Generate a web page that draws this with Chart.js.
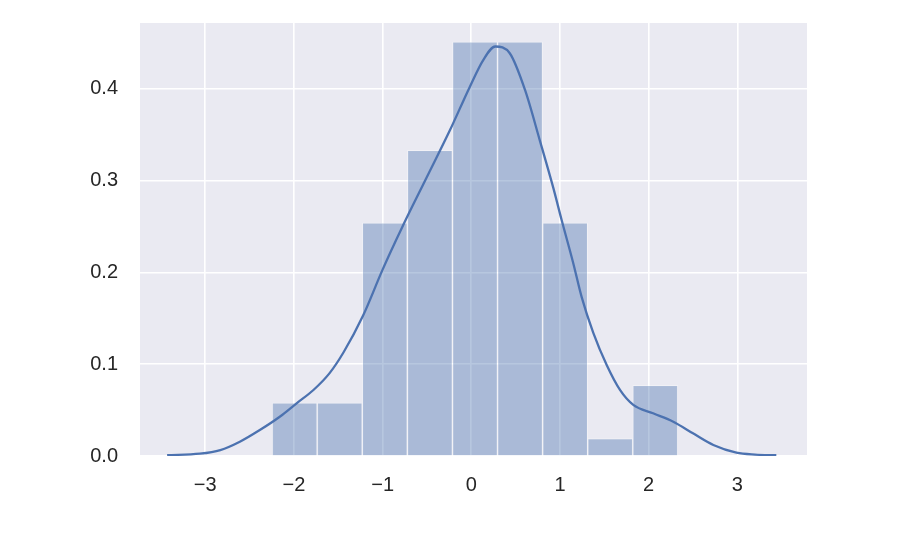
<!DOCTYPE html>
<html>
<head>
<meta charset="utf-8">
<script src="https://cdn.jsdelivr.net/npm/chart.js@4"></script>
<style>
  html, body { margin: 0; padding: 0; background: #ffffff; }
  #wrap { width: 916px; height: 534px; position: relative; }
</style>
</head>
<body>
<div id="wrap"><canvas id="c" width="916" height="534"></canvas></div>
<script>
// Histogram bin edges and densities
const binEdges = [-2.246, -1.738, -1.229, -0.721, -0.212, 0.296, 0.804, 1.313, 1.821, 2.329];
const binDensity = [0.058, 0.058, 0.254, 0.333, 0.451, 0.451, 0.254, 0.019, 0.077];

// KDE curve samples
const kdeX = [-3.43, -3.06, -2.83, -2.61, -2.385, -2.16, -1.97, -1.78, -1.60, -1.44, -1.22, -1.00,
              -0.77, -0.505, -0.24, -0.017, 0.133, 0.27, 0.434, 0.606, 0.775, 0.925, 1.019,
              1.15, 1.245, 1.376, 1.527, 1.677, 1.827, 2.05, 2.278, 2.50, 2.73, 2.99, 3.20, 3.44];
const kdeY = [0.001, 0.0025, 0.0065, 0.0156, 0.0283, 0.0428, 0.0574, 0.0719, 0.090, 0.113, 0.153, 0.203,
              0.251, 0.303, 0.355, 0.402, 0.431, 0.446, 0.4387, 0.3987, 0.343, 0.292, 0.257,
              0.210, 0.173, 0.134, 0.099, 0.0719, 0.0556, 0.0465, 0.0374, 0.0247, 0.012, 0.0036, 0.0015, 0.0008];

// Tick values
const xTicks = [-3, -2, -1, 0, 1, 2, 3];
const yTicks = [0.0, 0.1, 0.2, 0.3, 0.4];

const histData = binDensity.map((d, i) => ({ x: (binEdges[i] + binEdges[i + 1]) / 2, y: d }));
const kdeData = kdeX.map((x, i) => ({ x: x, y: kdeY[i] }));

const bgPlugin = {
  id: 'plotBg',
  beforeDraw(chart) {
    const { ctx, chartArea: a } = chart;
    ctx.save();
    ctx.fillStyle = '#EAEAF2';
    ctx.fillRect(a.left, a.top, a.right - a.left, a.bottom - a.top);
    ctx.restore();
  }
};

new Chart(document.getElementById('c'), {
  type: 'bar',
  data: {
    datasets: [
      {
        type: 'line',
        data: kdeData,
        borderColor: '#4C72B0',
        borderWidth: 2.3,
        pointRadius: 0,
        cubicInterpolationMode: 'monotone',
        fill: false,
        order: 0
      },
      {
        type: 'bar',
        data: histData,
        backgroundColor: 'rgba(76,114,176,0.4)',
        borderColor: 'rgba(255,255,255,0.35)',
        borderWidth: 1,
        barPercentage: 1.0,
        categoryPercentage: 1.0,
        order: 1
      }
    ]
  },
  options: {
    responsive: false,
    animation: false,
    devicePixelRatio: 1,
    layout: { padding: { left: 0, right: 109, top: 23, bottom: 0 } },
    plugins: { legend: { display: false }, tooltip: { enabled: false } },
    scales: {
      x: {
        type: 'linear',
        min: -3.736,
        max: 3.786,
        offset: false,
        border: { display: false },
        grid: { color: '#ffffff', lineWidth: 1.6, drawTicks: false, offset: false },
        afterBuildTicks(scale) { scale.ticks = xTicks.map(v => ({ value: v })); },
        afterFit(scale) { scale.height = 78; scale.paddingLeft = 0; scale.paddingRight = 0; },
        ticks: {
          padding: 17,
          color: '#262626',
          font: { family: 'Liberation Sans, Arial, sans-serif', size: 20 },
          callback: v => (v < 0 ? '\u2212' + Math.abs(v) : String(v))
        }
      },
      y: {
        type: 'linear',
        min: 0,
        max: 0.4716,
        border: { display: false },
        grid: { color: '#ffffff', lineWidth: 1.6, drawTicks: false },
        afterBuildTicks(scale) { scale.ticks = yTicks.map(v => ({ value: v })); },
        afterFit(scale) { scale.width = 140; scale.paddingTop = 0; scale.paddingBottom = 0; },
        ticks: {
          padding: 22,
          color: '#262626',
          font: { family: 'Liberation Sans, Arial, sans-serif', size: 20 },
          callback: v => Number(v).toFixed(1)
        }
      }
    }
  },
  plugins: [bgPlugin]
});
</script>
</body>
</html>
